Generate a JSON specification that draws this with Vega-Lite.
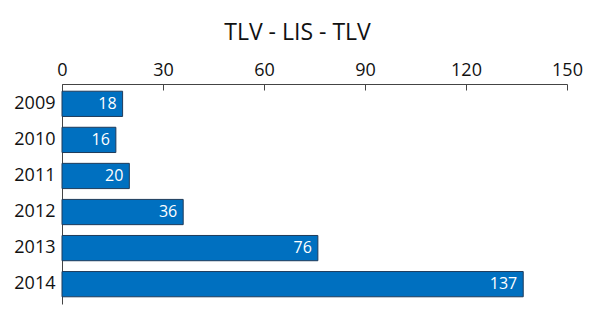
{
  "$schema": "https://vega.github.io/schema/vega-lite/v6.json",
  "autosize": "none",
  "width": 505,
  "height": 220,
  "padding": {"left": 62, "top": 84, "right": 28, "bottom": 6},
  "background": "white",
  "title": {"text": "TLV - LIS - TLV", "font": "Open Sans", "fontSize": 23, "fontWeight": "normal", "color": "#111111", "offset": 16, "anchor": "middle", "dx": -17},
  "data": {"values": [
    {"year": "2009", "flights": 18},
    {"year": "2010", "flights": 16},
    {"year": "2011", "flights": 20},
    {"year": "2012", "flights": 36},
    {"year": "2013", "flights": 76},
    {"year": "2014", "flights": 137}
  ]},
  "config": {"view": {"stroke": null}, "font": "Open Sans"},
  "encoding": {
    "y": {"field": "year", "type": "nominal", "sort": null, "title": null,
      "scale": {"paddingInner": 0.3, "paddingOuter": 0.2},
      "axis": {"ticks": false, "labelFontSize": 18, "labelColor": "#111111", "labelPadding": 7, "domainColor": "#444444", "labelFont": "Open Sans"}},
    "x": {"field": "flights", "type": "quantitative", "title": null,
      "scale": {"domain": [0, 150], "nice": false},
      "axis": {"orient": "top", "values": [0, 30, 60, 90, 120, 150], "grid": false, "labelFlush": false, "tickSize": -6, "labelPadding": 11, "labelFontSize": 18, "labelColor": "#111111", "tickColor": "#444444", "domainColor": "#444444", "labelFont": "Open Sans"}}
  },
  "layer": [
    {"mark": {"type": "bar", "color": "#0070c0", "stroke": "#1f3b5a", "strokeWidth": 1}},
    {"mark": {"type": "text", "align": "right", "baseline": "middle", "dx": -6, "color": "white", "fontSize": 16, "font": "Open Sans"},
      "encoding": {"text": {"field": "flights", "type": "quantitative"}}}
  ]
}
